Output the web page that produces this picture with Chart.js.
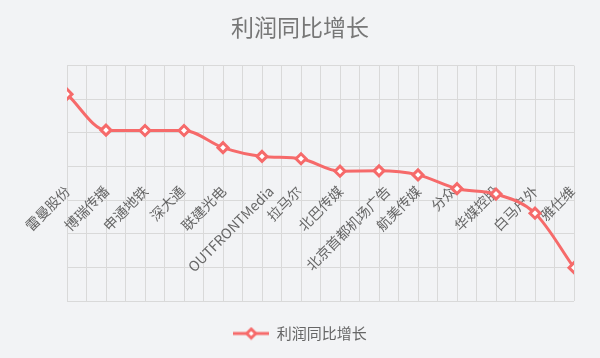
<!DOCTYPE html>
<html>
<head>
<meta charset="utf-8">
<script src="https://cdn.jsdelivr.net/npm/chart.js@4/dist/chart.umd.min.js"></script>
<style>
html,body{margin:0;padding:0;background:#f2f3f5;}
#wrap{width:600px;height:358px;position:relative;}
</style>
</head>
<body>
<div id="wrap"><canvas id="c"></canvas></div>
<script>
const title = '利润同比增长';
const seriesName = '利润同比增长';
const categories = ['雷曼股份','博瑞传播','申通地铁','深大通','联建光电','OUTFRONTMedia','拉马尔','北巴传媒','北京首都机场广告','航美传媒','分众','华媒控股','白马户外','雅仕维'];
const values = [6.15, 5.08, 5.07, 5.07, 4.56, 4.30, 4.23, 3.86, 3.87, 3.75, 3.34, 3.18, 2.61, 0.99];

const RED = '#f66a6a';
const FONT = '"Noto Sans CJK SC", "Noto Sans", sans-serif';

// legend symbol: line with diamond
const sym = document.createElement('canvas');
sym.width = 36; sym.height = 14;
(function(){
  const g = sym.getContext('2d');
  g.strokeStyle = RED; g.lineWidth = 3;
  g.beginPath(); g.moveTo(0,7); g.lineTo(36,7); g.stroke();
  g.beginPath(); g.moveTo(18,2.5); g.lineTo(22.5,7); g.lineTo(18,11.5); g.lineTo(13.5,7); g.closePath();
  g.fillStyle = '#fff'; g.fill(); g.lineWidth = 3; g.stroke();
})();

// small horizontal nudge of rotated axis labels, proportional to label length
const labelShift = {
  id: 'labelShift',
  beforeDraw(chart) {
    const sc = chart.scales.x;
    const items = sc.getLabelItems(chart.chartArea);
    const ctx = chart.ctx;
    items.forEach(it => {
      if (!it.label) return;
      ctx.save(); ctx.font = it.font.string;
      const w = ctx.measureText(it.label).width;
      ctx.restore();
      it.options.translation[0] += 0.149 * w - 8;
    });
  }
};

new Chart(document.getElementById('c'), {
  type: 'line',
  data: {
    datasets: [{
      label: seriesName,
      data: values.map((v,i)=>({x:i, y:v})),
      borderColor: RED,
      backgroundColor: '#fff',
      borderWidth: 3,
      pointStyle: 'rectRot',
      pointRadius: 5,
      pointHoverRadius: 5,
      pointBorderWidth: 3,
      pointBackgroundColor: '#fff',
      pointBorderColor: RED,
      cubicInterpolationMode: 'monotone',
      tension: 0.4,
      fill: false
    }]
  },
  plugins: [labelShift],
  options: {
    responsive: true,
    maintainAspectRatio: false,
    animation: false,
    layout: { padding: { left: 26, right: 26, top: 0, bottom: 7 } },
    scales: {
      x: {
        type: 'linear',
        min: 0, max: 13,
        position: { y: 3.52 },
        border: { display: false },
        grid: { color: '#d9d9d9', drawTicks: false, tickLength: 0 },
        ticks: {
          stepSize: 0.5,
          autoSkip: false,
          minRotation: 45, maxRotation: 45,
          padding: 0,
          color: '#666',
          font: { family: FONT, size: 14 },
          callback: function(v){ return Number.isInteger(v) ? categories[v] : ''; }
        }
      },
      y: {
        min: 0, max: 7,
        border: { display: false },
        grid: { color: '#d9d9d9', drawTicks: false, tickLength: 0 },
        ticks: { display: false, stepSize: 1 },
        afterFit: function(s){ s.width = 41; }
      }
    },
    plugins: {
      title: {
        display: true, text: title, color: '#777',
        font: { family: FONT, size: 23, weight: 'normal' },
        padding: { top: 13, bottom: 25 }
      },
      legend: {
        position: 'bottom',
        labels: {
          usePointStyle: true, pointStyle: sym, pointStyleWidth: 36,
          color: '#666', font: { family: FONT, size: 15 }, padding: 25
        }
      },
      tooltip: { enabled: false }
    }
  }
});
</script>
</body>
</html>
